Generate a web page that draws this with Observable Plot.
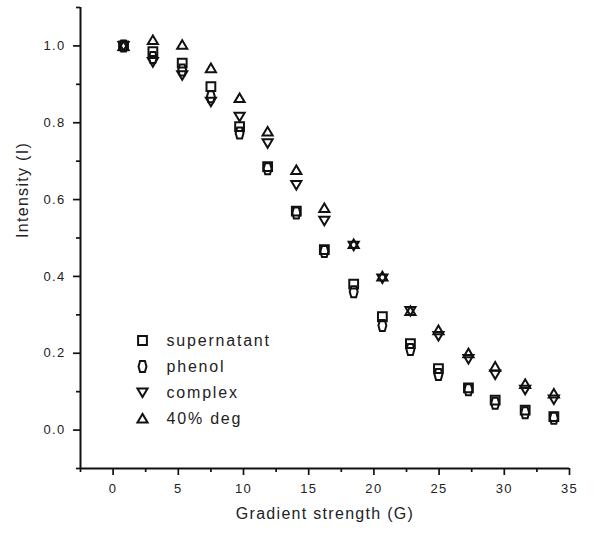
<!DOCTYPE html>
<html>
<head>
<meta charset="utf-8">
<script src="https://cdn.jsdelivr.net/npm/d3@7"></script>
<script src="https://cdn.jsdelivr.net/npm/@observablehq/plot@0.6"></script>
<style>
  html, body { margin: 0; padding: 0; background: #fff; }
  #chart svg { display: block; }
</style>
</head>
<body>
<div id="chart"></div>
<script>
// ---- data ----
const gradient = [0.8, 3.05, 5.3, 7.5, 9.7, 11.85, 14.05, 16.2, 18.45, 20.65, 22.8, 24.95, 27.25, 29.3, 31.6, 33.8];
const supernatant = [1.0, 0.985, 0.955, 0.894, 0.79, 0.686, 0.57, 0.47, 0.38, 0.295, 0.225, 0.16, 0.11, 0.078, 0.052, 0.035];
const phenol      = [1.0, 0.97, 0.937, 0.868, 0.773, 0.68, 0.565, 0.465, 0.36, 0.272, 0.21, 0.145, 0.105, 0.07, 0.045, 0.031];
const complex     = [1.0, 0.958, 0.924, 0.855, 0.816, 0.747, 0.638, 0.545, 0.48, 0.395, 0.31, 0.245, 0.185, 0.145, 0.105, 0.08];
const deg40       = [1.0, 1.015, 1.003, 0.942, 0.864, 0.777, 0.677, 0.578, 0.484, 0.40, 0.31, 0.26, 0.2, 0.165, 0.12, 0.095];
const seriesNames = ["supernatant", "phenol", "complex", "40% deg"];
const xMajor = [0, 5, 10, 15, 20, 25, 30, 35];
const xMinor = [-2.5, 2.5, 7.5, 12.5, 17.5, 22.5, 27.5, 32.5];
const yMajor = [0, 0.2, 0.4, 0.6, 0.8, 1.0];
const yMinor = [-0.1, 0.1, 0.3, 0.5, 0.7, 0.9, 1.1];

// ---- symbols ----
function mk(points) {
  return { draw(ctx, size) {
    const r = Math.sqrt(size / Math.PI) / 4;
    ctx.moveTo(points[0][0] * r, points[0][1] * r);
    for (let i = 1; i < points.length; i++) ctx.lineTo(points[i][0] * r, points[i][1] * r);
    ctx.closePath();
  }};
}
const symSquare = mk([[-4, -4], [4, -4], [4, 4], [-4, 4]]);
const symHex    = mk([[-3.6, 0], [-2.2, -5], [2.2, -5], [3.6, 0], [2.2, 5], [-2.2, 5]]);
const symDown   = mk([[-4.6, -3.6], [4.6, -3.6], [0, 4.2]]);
const symUp     = mk([[0, -4.2], [4.6, 3.6], [-4.6, 3.6]]);
const symbols = [symSquare, symHex, symDown, symUp];
const values = [supernatant, phenol, complex, deg40];

const rows = [];
seriesNames.forEach((s, k) => gradient.forEach((g, i) => rows.push({series: s, k, g, v: values[k][i]})));

const ink = "#111";
const font = "'Liberation Sans', Arial, sans-serif";
const R = 4.4, SW = 2;

const marks = [
  Plot.ruleX([-2.5], {stroke: ink, strokeWidth: 2}),
  Plot.ruleY([-0.1], {stroke: ink, strokeWidth: 2}),
  Plot.axisX({ticks: xMajor, tickSize: 7, tickPadding: 8, strokeWidth: 1.7, stroke: ink, fill: "#222",
              tickFormat: d => String(d), label: null, fontSize: 13}),
  Plot.axisX({ticks: xMinor, tickSize: 4, strokeWidth: 1.7, stroke: ink, tickFormat: () => "", label: null}),
  Plot.axisY({ticks: yMajor, tickSize: 7, tickPadding: 8, strokeWidth: 1.7, stroke: ink, fill: "#222",
              tickFormat: d3.format(".1f"), label: null, fontSize: 13}),
  Plot.axisY({ticks: yMinor, tickSize: 4, strokeWidth: 1.7, stroke: ink, tickFormat: () => "", label: null}),
  Plot.text(["Gradient strength (G)"], {frameAnchor: "bottom", dy: 45, fontSize: 16, fill: "#222", lineAnchor: "middle"}),
  Plot.text(["Intensity (I)"], {frameAnchor: "left", dx: -58, dy: 0, rotate: -90, fontSize: 16, fill: "#222", lineAnchor: "middle"})
];

symbols.forEach((sym, k) => {
  marks.push(Plot.dot(rows.filter(d => d.k === k), {x: "g", y: "v", symbol: () => sym, r: R, stroke: ink, strokeWidth: SW, fill: "none"}));
});

// legend inside the frame
seriesNames.forEach((name, k) => {
  marks.push(Plot.dot([name], {frameAnchor: "top-left", dx: 62, dy: 333 + k * 26, symbol: () => symbols[k], r: R, stroke: ink, strokeWidth: SW, fill: "none"}));
  marks.push(Plot.text([name], {frameAnchor: "top-left", dx: 86, dy: 333 + k * 26, textAnchor: "start", lineAnchor: "middle", fontSize: 16, fill: "#222", style: "letter-spacing:1.8px"}));
});

const chart = Plot.plot({
  width: 610,
  height: 540,
  marginLeft: 80,
  marginRight: 41,
  marginTop: 7,
  marginBottom: 72,
  x: {domain: [-2.5, 35]},
  y: {domain: [-0.1, 1.1]},
  symbol: {type: "identity"},
  style: {fontFamily: font, letterSpacing: "1.3px", color: "#222", background: "#fff"},
  marks
});
// widen legend letter spacing (text marks inherit svg style)
chart.querySelectorAll("text").forEach(t => {
  if (seriesNames.includes(t.textContent)) t.setAttribute("letter-spacing", "1.8px");
});
document.getElementById("chart").appendChild(chart);
</script>
</body>
</html>
